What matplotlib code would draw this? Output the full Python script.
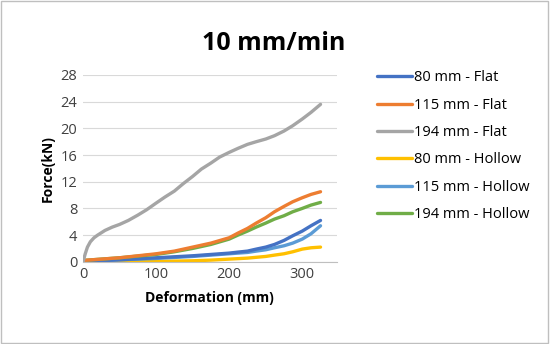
import numpy as np
import matplotlib
matplotlib.use('Agg')
import matplotlib.pyplot as plt
from matplotlib.patches import Rectangle

plt.rcParams['font.family'] = ['Open Sans', 'DejaVu Sans']

# Kurven
x_gray = [0, 3, 6, 10, 15, 20, 30, 40, 50, 62, 75, 87, 100, 112, 125, 137, 150, 162, 175, 187,
          200, 212, 225, 237, 250, 262, 275, 287, 300, 312, 325]
y_gray = [0, 1.2, 2.2, 3.0, 3.6, 4.0, 4.7, 5.2, 5.6, 6.2, 7.0, 7.8, 8.8, 9.7, 10.6, 11.7, 12.8, 13.9, 14.8, 15.7,
          16.4, 17.0, 17.6, 18.0, 18.4, 18.9, 19.6, 20.4, 21.4, 22.4, 23.6]

x_c = [0, 25, 50, 75, 100, 125, 150, 175, 200, 212, 225, 237, 250, 262, 275, 287, 300, 312, 325]
y_orange = [0.2, 0.4, 0.6, 0.9, 1.2, 1.6, 2.2, 2.8, 3.6, 4.3, 5.0, 5.8, 6.6, 7.5, 8.3, 9.0, 9.6, 10.1, 10.5]
y_green = [0.2, 0.4, 0.6, 0.85, 1.1, 1.5, 2.0, 2.6, 3.4, 4.0, 4.6, 5.2, 5.8, 6.4, 6.9, 7.5, 8.0, 8.5, 8.9]
y_blue = [0.0, 0.15, 0.3, 0.45, 0.6, 0.75, 0.9, 1.1, 1.3, 1.45, 1.6, 1.9, 2.2, 2.6, 3.2, 3.9, 4.6, 5.4, 6.2]
y_lblue = [0.0, 0.15, 0.3, 0.4, 0.5, 0.65, 0.8, 1.0, 1.2, 1.3, 1.4, 1.6, 1.8, 2.1, 2.4, 2.8, 3.4, 4.2, 5.4]
y_yellow = [0.0, 0.01, 0.02, 0.03, 0.05, 0.1, 0.15, 0.25, 0.4, 0.47, 0.55, 0.67, 0.8, 1.0, 1.2, 1.5, 1.9, 2.1, 2.2]

labels = ['80 mm - Flat', '115 mm - Flat', '194 mm - Flat',
          '80 mm - Hollow', '115 mm - Hollow', '194 mm - Hollow']
farben = ['#4472C4', '#ED7D31', '#A5A5A5', '#FFC000', '#5B9BD5', '#70AD47']

fig = plt.figure(figsize=(5.5, 3.44), dpi=100)
fig.patches.append(Rectangle((0.002, 0.003), 0.995, 0.994, transform=fig.transFigure,
                             fill=False, edgecolor='#BFBFBF', linewidth=1.0))
ax = fig.add_axes([0.151, 0.239, 0.461, 0.543])

serien = [(x_c, y_blue), (x_c, y_orange), (x_gray, y_gray),
          (x_c, y_yellow), (x_c, y_lblue), (x_c, y_green)]
reihenfolge = [3, 4, 0, 5, 1, 2]
linien = [None] * 6
for i in reihenfolge:
    xs, ys = serien[i]
    linien[i], = ax.plot(xs, ys, color=farben[i], linewidth=2.4, label=labels[i],
                         solid_capstyle='round', solid_joinstyle='round')

ax.set_xlim(0, 347)
ax.set_ylim(0, 28)
ax.set_xticks([0, 100, 200, 300])
ax.set_yticks(np.arange(0, 29, 4))
ax.grid(axis='y', color='#D9D9D9', linewidth=0.8)
ax.set_axisbelow(True)
for s in ['top', 'right', 'left']:
    ax.spines[s].set_visible(False)
ax.spines['bottom'].set_color('#BFBFBF')
ax.tick_params(length=0, labelsize=10.5, colors='#404040', pad=4)
ax.set_xlabel('Deformation (mm)', fontsize=10, fontweight='bold', labelpad=6)
ax.set_ylabel('Force(kN)', fontsize=10, fontweight='bold', labelpad=4)

fig.text(0.497, 0.875, '10 mm/min', ha='center', va='center', fontsize=18, fontweight='bold')

fig.legend(linien, labels, loc='center left', bbox_to_anchor=(0.675, 0.575),
           frameon=False, fontsize=10.5, handlelength=2.4, handletextpad=0.1,
           labelspacing=0.85, borderaxespad=0)

fig.savefig('out.png', dpi=100)
